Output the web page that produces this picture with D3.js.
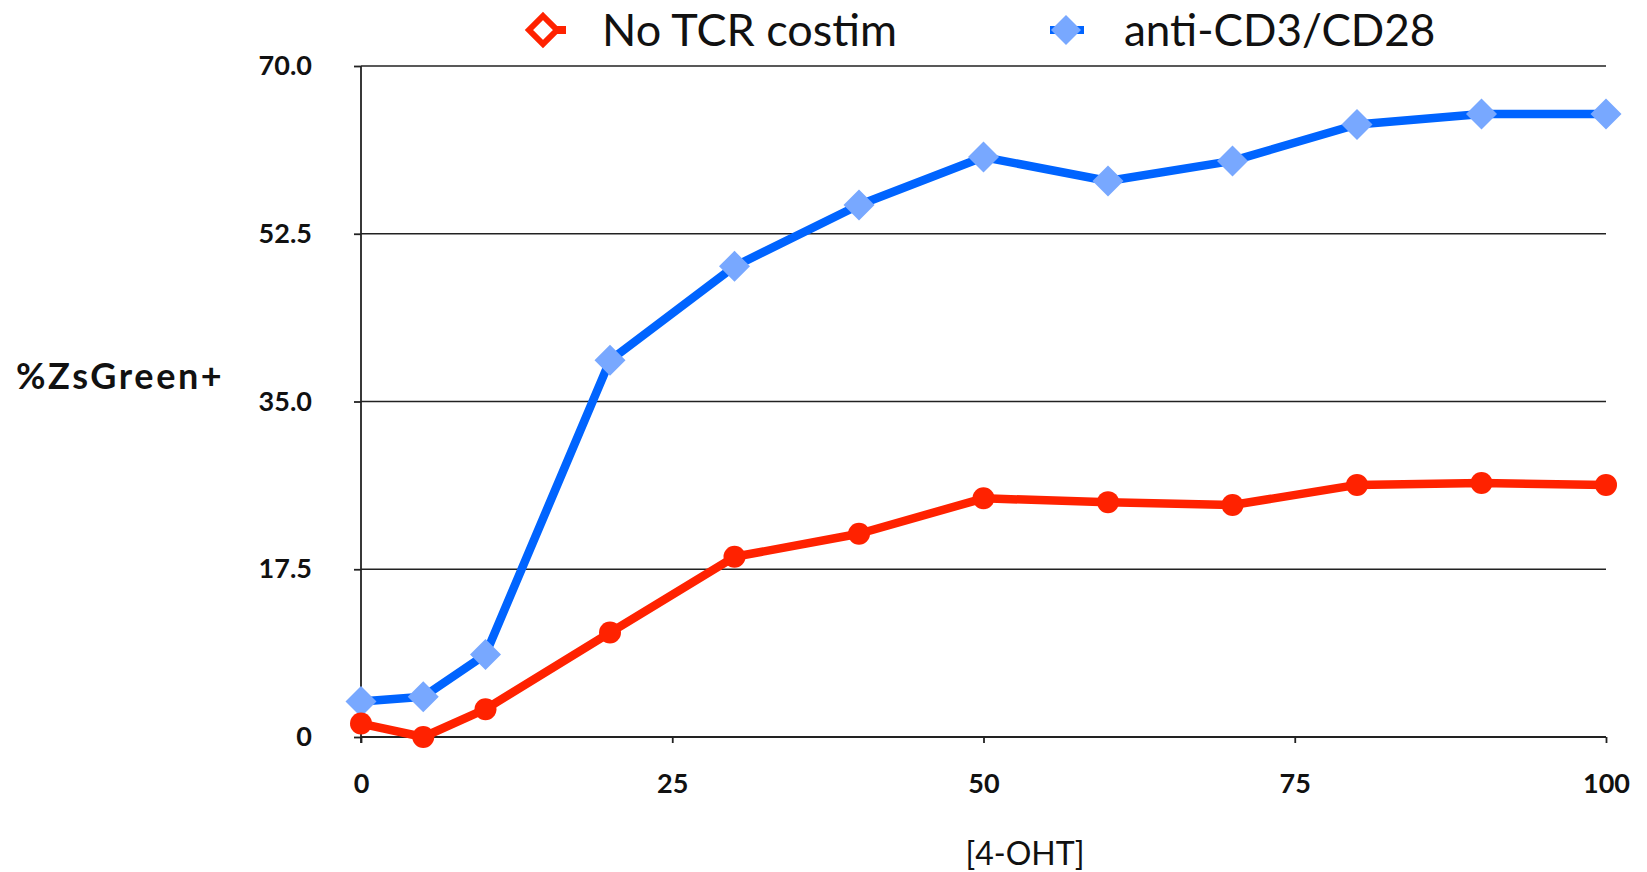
<!DOCTYPE html>
<html>
<head>
<meta charset="utf-8">
<script src="https://cdn.jsdelivr.net/npm/d3@7"></script>
<style>
  html, body { margin: 0; padding: 0; background: #fff; }
  svg { display: block; }
  text { font-family: Lato, "Open Sans", sans-serif; fill: #111; }
</style>
</head>
<body>
<svg id="chart" width="1647" height="872"></svg>
<script>
// 4-OHT dose (x) and percent ZsGreen+ cells for each stimulation condition
const dose = [0, 5, 10, 20, 30, 40, 50, 60, 70, 80, 90, 100];
const noTcrCostim = [1.4, 0, 2.9, 10.9, 18.8, 21.2, 24.9, 24.5, 24.2, 26.3, 26.5, 26.3];
const antiCd3Cd28 = [3.7, 4.2, 8.6, 39.3, 49.1, 55.5, 60.5, 58.0, 60.1, 63.9, 65.0, 65.0];

const xTicks = [0, 25, 50, 75, 100];
const yTicks = [0, 17.5, 35, 52.5, 70];
const seriesNames = ["No TCR costim", "anti-CD3/CD28"];
const xTitle = "[4-OHT]";
const yTitle = "%ZsGreen+";

const svg = d3.select("#chart");
const plot = { left: 361, right: 1606, top: 66, bottom: 737 };

const x = d3.scaleLinear().domain([0, 100]).range([plot.left, plot.right]);
const y = d3.scaleLinear().domain([0, 70]).range([plot.bottom, plot.top]);

// horizontal grid lines
svg.append("g")
  .selectAll("line")
  .data(yTicks.filter(d => d > 0))
  .join("line")
  .attr("x1", plot.left).attr("x2", plot.right)
  .attr("y1", d => y(d)).attr("y2", d => y(d))
  .attr("stroke", "#222").attr("stroke-width", 1.6);

// y axis
const yAxis = svg.append("g")
  .attr("transform", `translate(${plot.left},0)`)
  .call(d3.axisLeft(y).tickValues(yTicks).tickSize(7)
    .tickFormat(d => d === 0 ? "0" : d3.format(".1f")(d)));
yAxis.select(".domain").attr("stroke", "#222").attr("stroke-width", 1.8)
  .attr("d", `M0,${plot.top}V${plot.bottom + 6}`);
yAxis.selectAll(".tick line").attr("stroke", "#222").attr("stroke-width", 1.8);
yAxis.selectAll(".tick text")
  .attr("x", -49)
  .style("font-size", "27px").style("font-weight", "700")
  .style("font-family", "Lato, sans-serif").attr("fill", "#111");

// x axis
const xAxis = svg.append("g")
  .attr("transform", `translate(0,${plot.bottom})`)
  .call(d3.axisBottom(x).tickValues(xTicks).tickSize(6).tickFormat(d3.format("d")));
xAxis.select(".domain").attr("stroke", "#222").attr("stroke-width", 1.8)
  .attr("d", `M${plot.left},0H${plot.right}`);
xAxis.selectAll(".tick line").attr("stroke", "#222").attr("stroke-width", 1.8);
xAxis.selectAll(".tick text")
  .attr("y", 37)
  .style("font-size", "27px").style("font-weight", "700")
  .style("font-family", "Lato, sans-serif").attr("fill", "#111");

// axis titles
svg.append("text")
  .attr("x", 16).attr("y", 389)
  .style("font-size", "36px").style("font-weight", "700")
  .style("letter-spacing", "2.6px")
  .text(yTitle);
svg.append("text")
  .attr("x", 1025).attr("y", 865)
  .attr("text-anchor", "middle")
  .style("font-size", "32px").style("font-weight", "400")
  .text(xTitle);

const line = d3.line().x(d => x(d[0])).y(d => y(d[1]));
const diamond = s => `M0,${-s}L${s},0L0,${s}L${-s},0Z`;

// anti-CD3/CD28 series: blue line, light blue diamonds
const blueData = dose.map((d, i) => [d, antiCd3Cd28[i]]);
svg.append("path")
  .datum(blueData)
  .attr("d", line)
  .attr("fill", "none").attr("stroke", "#0064ff")
  .attr("stroke-width", 8.5).attr("stroke-linejoin", "round");
svg.append("g").selectAll("path")
  .data(blueData).join("path")
  .attr("transform", d => `translate(${x(d[0])},${y(d[1])})`)
  .attr("d", diamond(15.5))
  .attr("fill", "#78a8ff");

// No TCR costim series: red line, red circles
const redData = dose.map((d, i) => [d, noTcrCostim[i]]);
svg.append("path")
  .datum(redData)
  .attr("d", line)
  .attr("fill", "none").attr("stroke", "#ff2200")
  .attr("stroke-width", 8.5).attr("stroke-linejoin", "round");
svg.append("g").selectAll("circle")
  .data(redData).join("circle")
  .attr("cx", d => x(d[0])).attr("cy", d => y(d[1]))
  .attr("r", 11)
  .attr("fill", "#ff2200");

// legend
const legend = svg.append("g");
const ly = 30;
// red entry: short line with hollow diamond
legend.append("line")
  .attr("x1", 530).attr("x2", 566).attr("y1", ly).attr("y2", ly)
  .attr("stroke", "#ff2200").attr("stroke-width", 8);
legend.append("path")
  .attr("transform", `translate(543,${ly})`)
  .attr("d", diamond(14))
  .attr("fill", "#fff").attr("stroke", "#ff2200").attr("stroke-width", 6);
legend.append("text")
  .attr("x", 602).attr("y", ly + 16)
  .style("font-size", "45px").style("font-weight", "400")
  .text(seriesNames[0]);
// blue entry: short line with filled diamond
legend.append("line")
  .attr("x1", 1050).attr("x2", 1084).attr("y1", ly).attr("y2", ly)
  .attr("stroke", "#0064ff").attr("stroke-width", 8);
legend.append("path")
  .attr("transform", `translate(1066,${ly})`)
  .attr("d", diamond(15))
  .attr("fill", "#78a8ff");
legend.append("text")
  .attr("x", 1124).attr("y", ly + 16)
  .style("font-size", "44px").style("font-weight", "400")
  .text(seriesNames[1]);
</script>
</body>
</html>
